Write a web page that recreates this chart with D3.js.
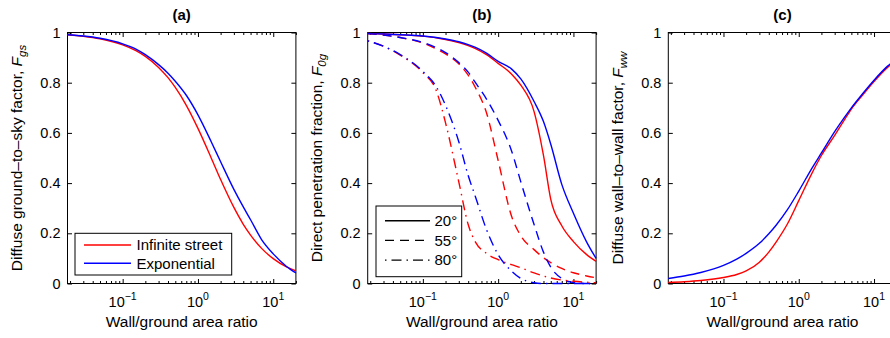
<!DOCTYPE html>
<html>
<head>
<meta charset="utf-8">
<script src="https://cdn.jsdelivr.net/npm/d3@7/dist/d3.min.js"></script>
<style>
    body { margin: 0; background: #fff; }
    svg text { font-family: "Liberation Sans", Arial, Helvetica, sans-serif; fill: #000; }
</style>
</head>
<body>
<div id="svg_container"></div>
<script>
// wall/ground area ratio, shared x grid of all curves
var ratio = [0.0185, 0.03, 0.05, 0.1, 0.15, 0.2, 0.3, 0.4, 0.5, 0.7, 1, 1.5, 2, 3, 4, 5, 7, 10, 15, 20];

// (a) diffuse ground-to-sky factor
var gsInfinite    = [0.991, 0.985, 0.975, 0.951, 0.928, 0.905, 0.861, 0.82, 0.781, 0.71, 0.618, 0.50, 0.414, 0.303, 0.236, 0.193, 0.14, 0.099, 0.066, 0.05];
var gsExponential = [0.991, 0.986, 0.977, 0.955, 0.934, 0.912, 0.872, 0.838, 0.806, 0.75, 0.672, 0.565, 0.485, 0.375, 0.305, 0.254, 0.175, 0.118, 0.068, 0.042];

// (b) direct penetration fraction, per solar zenith angle
var f0Infinite20    = [0.996, 0.994, 0.991, 0.985, 0.979, 0.972, 0.96, 0.948, 0.936, 0.912, 0.877, 0.835, 0.79, 0.685, 0.51, 0.335, 0.23, 0.167, 0.115, 0.088];
var f0Exponential20 = [0.996, 0.994, 0.991, 0.986, 0.98, 0.974, 0.963, 0.952, 0.941, 0.918, 0.885, 0.855, 0.815, 0.725, 0.645, 0.555, 0.395, 0.28, 0.165, 0.10];
var f0Infinite55    = [0.996, 0.99, 0.98, 0.958, 0.935, 0.915, 0.875, 0.83, 0.78, 0.68, 0.49, 0.27, 0.19, 0.135, 0.103, 0.083, 0.06, 0.043, 0.03, 0.023];
var f0Exponential55 = [0.996, 0.99, 0.98, 0.96, 0.94, 0.92, 0.88, 0.842, 0.80, 0.735, 0.65, 0.53, 0.405, 0.235, 0.125, 0.065, 0.02, 0.004, 0, 0];
var f0Infinite80    = [0.967, 0.945, 0.91, 0.84, 0.77, 0.64, 0.405, 0.235, 0.165, 0.12, 0.095, 0.075, 0.063, 0.042, 0.03, 0.022, 0.014, 0.009, 0.005, 0.003];
var f0Exponential80 = [0.967, 0.945, 0.912, 0.845, 0.785, 0.71, 0.565, 0.43, 0.345, 0.215, 0.115, 0.05, 0.02, 0.003, 0, 0, 0, 0, 0, 0];

// (c) diffuse wall-to-wall factor
var wwInfinite    = [0.004, 0.007, 0.012, 0.024, 0.036, 0.05, 0.085, 0.125, 0.165, 0.235, 0.33, 0.44, 0.51, 0.59, 0.65, 0.695, 0.75, 0.805, 0.86, 0.89];
var wwExponential = [0.02, 0.03, 0.044, 0.072, 0.097, 0.12, 0.16, 0.198, 0.232, 0.292, 0.368, 0.46, 0.52, 0.605, 0.66, 0.70, 0.755, 0.81, 0.865, 0.895];

var xDomain = [0.0185, 20];
var xMajor = [0.1, 1, 10];
var xExponents = ["\u22121", "0", "1"];
var yTicks = [0, 0.2, 0.4, 0.6, 0.8, 1];
var panelTitles = ["(a)", "(b)", "(c)"];
var yTitles = ["Diffuse ground\u2013to\u2013sky factor, ", "Direct penetration fraction, ", "Diffuse wall\u2013to\u2013wall factor, "];
var ySubs = ["gs", "0g", "ww"];
var modelNames = ["Infinite street", "Exponential"];
var angleNames = ["20\u00b0", "55\u00b0", "80\u00b0"];

var RED = "#ff0000", BLUE = "#0000ff";
var DASHES = [null, "9,6", "1.5,5,10,5"];

var svg = d3.select("#svg_container")
        .append("svg")
        .attr("width", 890)
        .attr("height", 338);

function Panel(index, left) {
    this.left = left;
    this.top = 32.5;
    this.width = 228.4;
    this.height = 251;

    this.x = d3.scaleLog().domain(xDomain).range([0, this.width]);
    this.y = d3.scaleLinear().domain([0, 1]).range([this.height, 0]);

    var self = this;
    var g = svg.append("g")
            .attr("transform", "translate(" + this.left + "," + this.top + ")");
    this.g = g;

    // minor log ticks 2..9 in every decade
    var minor = [];
    [0.01, 0.1, 1, 10].forEach(function (d) {
        for (var k = 2; k <= 9; k++) {
            var v = d * k;
            if (v >= xDomain[0] && v <= xDomain[1]) minor.push(v);
        }
    });

    var noText = function (ax) { ax.selectAll("text").remove(); ax.select(".domain").remove(); };

    g.append("g")
            .attr("transform", "translate(0," + this.height + ")")
            .call(d3.axisBottom(this.x).tickValues(minor).tickSize(-2.5).tickFormat(""))
            .call(noText);
    g.append("g")
            .call(d3.axisTop(this.x).tickValues(minor).tickSize(-2.5).tickFormat(""))
            .call(noText);
    g.append("g")
            .attr("transform", "translate(0," + this.height + ")")
            .call(d3.axisBottom(this.x).tickValues(xMajor).tickSize(-4.5).tickFormat(""))
            .call(noText);
    g.append("g")
            .call(d3.axisTop(this.x).tickValues(xMajor).tickSize(-4.5).tickFormat(""))
            .call(noText);
    g.append("g")
            .attr("transform", "translate(" + this.width + ",0)")
            .call(d3.axisRight(this.y).tickValues(yTicks).tickSize(-4.5).tickFormat(""))
            .call(noText);

    var yAxis = g.append("g")
            .call(d3.axisLeft(this.y)
                    .tickValues(yTicks)
                    .tickSize(-4.5)
                    .tickPadding(7)
                    .tickFormat(function (d) { return (d === 0 || d === 1) ? d : d.toFixed(1); }));
    yAxis.select(".domain").remove();
    yAxis.attr("font-size", null).attr("font-family", null);
    yAxis.selectAll("text").style("font-size", "14.5px");

    // x tick labels: 10 with superscript exponent
    xMajor.forEach(function (v, i) {
        var t = g.append("text")
                .attr("x", self.x(v))
                .attr("y", self.height + 23.5)
                .attr("text-anchor", "middle")
                .style("font-size", "14.5px");
        t.append("tspan").text("10");
        t.append("tspan").attr("dy", -7.5).style("font-size", "10.5px").text(xExponents[i]);
    });

    g.append("rect")
            .attr("width", this.width)
            .attr("height", this.height)
            .attr("fill", "none")
            .attr("stroke", "#000")
            .attr("stroke-width", 1);

    g.append("text")
            .attr("x", this.width / 2)
            .attr("y", -13)
            .attr("text-anchor", "middle")
            .style("font-size", "15px")
            .style("font-weight", "bold")
            .text(panelTitles[index]);

    g.append("text")
            .attr("x", this.width / 2)
            .attr("y", this.height + 43)
            .attr("text-anchor", "middle")
            .style("font-size", "15.5px")
            .text("Wall/ground area ratio");

    var yt = g.append("text")
            .attr("text-anchor", "middle")
            .attr("transform", "translate(-45.5," + (this.height / 2) + ")rotate(-90)")
            .style("font-size", "15.5px");
    yt.append("tspan").text(yTitles[index]);
    yt.append("tspan").style("font-style", "italic").text("F");
    yt.append("tspan").attr("dy", 4).style("font-style", "italic").style("font-size", "11.5px").text(ySubs[index]);

    this.line = d3.line()
            .x(function (d) { return self.x(d[0]); })
            .y(function (d) { return self.y(d[1]); })
            .curve(d3.curveMonotoneX);

    this.addCurve = function (values, color, dash) {
        g.append("path")
                .datum(d3.zip(ratio, values))
                .attr("d", this.line)
                .attr("fill", "none")
                .attr("stroke", color)
                .attr("stroke-width", 1.4)
                .attr("stroke-dasharray", dash);
    };
}

var panelA = new Panel(0, 67.5);
var panelB = new Panel(1, 367.7);
var panelC = new Panel(2, 668.3);

panelA.addCurve(gsInfinite, RED, null);
panelA.addCurve(gsExponential, BLUE, null);

panelB.addCurve(f0Infinite20, RED, DASHES[0]);
panelB.addCurve(f0Exponential20, BLUE, DASHES[0]);
panelB.addCurve(f0Infinite55, RED, DASHES[1]);
panelB.addCurve(f0Exponential55, BLUE, DASHES[1]);
panelB.addCurve(f0Infinite80, RED, DASHES[2]);
panelB.addCurve(f0Exponential80, BLUE, DASHES[2]);

panelC.addCurve(wwInfinite, RED, null);
panelC.addCurve(wwExponential, BLUE, null);

// legend (a): models
var legA = panelA.g.append("g").attr("transform", "translate(7.5,200.8)");
legA.append("rect")
        .attr("width", 156.7)
        .attr("height", 41.7)
        .attr("fill", "#fff")
        .attr("stroke", "#000");
modelNames.forEach(function (name, i) {
    var yy = 11.7 + i * 18.3;
    legA.append("line")
            .attr("x1", 9).attr("x2", 56)
            .attr("y1", yy).attr("y2", yy)
            .attr("stroke", [RED, BLUE][i])
            .attr("stroke-width", 1.4);
    legA.append("text")
            .attr("x", 61.5)
            .attr("y", yy + 5.3)
            .style("font-size", "15px")
            .text(name);
});

// legend (b): zenith angles
var legB = panelB.g.append("g").attr("transform", "translate(8.3,173.5)");
legB.append("rect")
        .attr("width", 85.7)
        .attr("height", 70.7)
        .attr("fill", "#fff")
        .attr("stroke", "#000");
angleNames.forEach(function (name, i) {
    var yy = 14.7 + i * 19.7;
    legB.append("line")
            .attr("x1", 9).attr("x2", 54)
            .attr("y1", yy).attr("y2", yy)
            .attr("stroke", "#000")
            .attr("stroke-width", 1.4)
            .attr("stroke-dasharray", DASHES[i]);
    legB.append("text")
            .attr("x", 58.5)
            .attr("y", yy + 5.3)
            .style("font-size", "15px")
            .text(name);
});
</script>
</body>
</html>
